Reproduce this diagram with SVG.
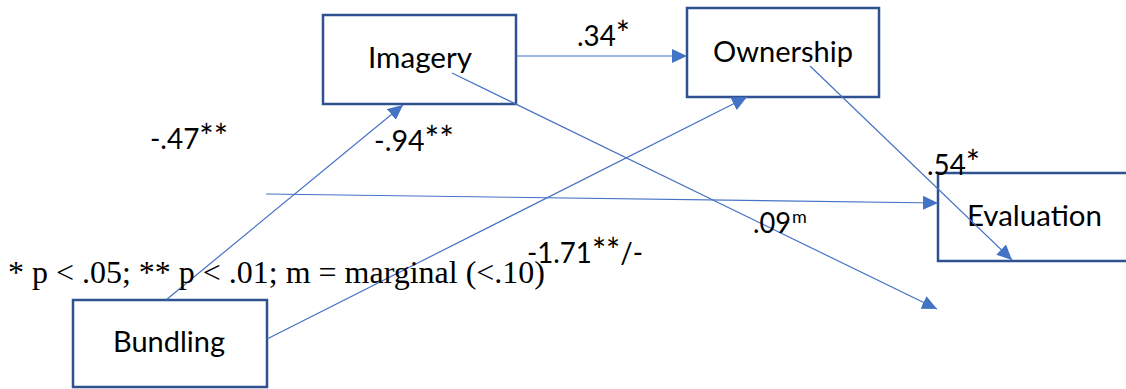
<svg xmlns="http://www.w3.org/2000/svg" width="1126" height="389" viewBox="0 0 1126 389">
  <style>
    .box { fill: #ffffff; stroke: #2F528F; stroke-width: 2.5; }
    .name { font-family: Lato, "Open Sans", "Liberation Sans", sans-serif; font-size: 29px; fill: #000000; }
    .coef { font-family: Lato, "Open Sans", "Liberation Sans", sans-serif; font-size: 29px; fill: #000000; }
    .ast { font-size: 35px; }
    .sup { font-family: Lato, "Open Sans", "Liberation Sans", sans-serif; font-size: 18px; fill: #000000; }
    .note { font-family: "Liberation Serif", "Times New Roman", serif; font-size: 32px; fill: #000000; }
    .link { fill: none; stroke: #4472C4; stroke-width: 1.2; }
  </style>
  <defs>
    <marker id="head" viewBox="0 0 15 14" markerWidth="15" markerHeight="14" refX="15" refY="7" orient="auto" markerUnits="userSpaceOnUse">
      <path d="M0,0 L15,7 L0,14 Z" fill="#4472C4"/>
    </marker>
  </defs>

  <!-- nodes -->
  <g id="imagery">
    <rect class="box" x="323" y="15" width="193" height="89"/>
    <text class="name" x="368" y="68" textLength="104" lengthAdjust="spacingAndGlyphs">Imagery</text>
  </g>
  <g id="ownership">
    <rect class="box" x="687" y="8" width="192" height="89"/>
    <text class="name" x="713" y="62" textLength="140" lengthAdjust="spacingAndGlyphs">Ownership</text>
  </g>
  <g id="evaluation">
    <rect class="box" x="938" y="173" width="210" height="88"/>
    <text class="name" x="967" y="226" textLength="135" lengthAdjust="spacingAndGlyphs">Evaluation</text>
  </g>
  <g id="bundling">
    <rect class="box" x="73" y="300" width="194" height="87"/>
    <text class="name" x="113" y="352" textLength="112" lengthAdjust="spacingAndGlyphs">Bundling</text>
  </g>

  <!-- connectors -->
  <g id="connectors">
    <line class="link" x1="166" y1="300" x2="403" y2="105" marker-end="url(#head)"/>
    <line class="link" x1="267" y1="339" x2="747" y2="97" marker-end="url(#head)"/>
    <line class="link" x1="516" y1="56" x2="687" y2="56" marker-end="url(#head)"/>
    <line class="link" x1="452" y1="73" x2="937" y2="309" marker-end="url(#head)"/>
    <line class="link" x1="810" y1="66" x2="1012" y2="260" marker-end="url(#head)"/>
    <line class="link" x1="266" y1="194" x2="938" y2="203" marker-end="url(#head)"/>
  </g>

  <!-- path coefficients and note -->
  <g id="labels">
    <text class="coef" x="150" y="149" textLength="78" lengthAdjust="spacingAndGlyphs">-.47<tspan class="ast">**</tspan></text>
    <text class="coef" x="374" y="151" textLength="80" lengthAdjust="spacingAndGlyphs">-.94<tspan class="ast">**</tspan></text>
    <text class="coef" x="577" y="46" textLength="53" lengthAdjust="spacingAndGlyphs">.34<tspan class="ast">*</tspan></text>
    <text class="coef" x="927" y="175" textLength="53" lengthAdjust="spacingAndGlyphs">.54<tspan class="ast">*</tspan></text>
    <text class="coef" x="753" y="233" textLength="38" lengthAdjust="spacingAndGlyphs">.09</text>
    <text class="sup" x="792" y="223">m</text>
    <text class="coef" x="527" y="263" textLength="116" lengthAdjust="spacingAndGlyphs">-1.71<tspan class="ast">**</tspan>/-</text>
    <text class="note" x="8" y="283" textLength="537" lengthAdjust="spacingAndGlyphs">* p &lt; .05; ** p &lt; .01; m = marginal (&lt;.10)</text>
  </g>
</svg>
